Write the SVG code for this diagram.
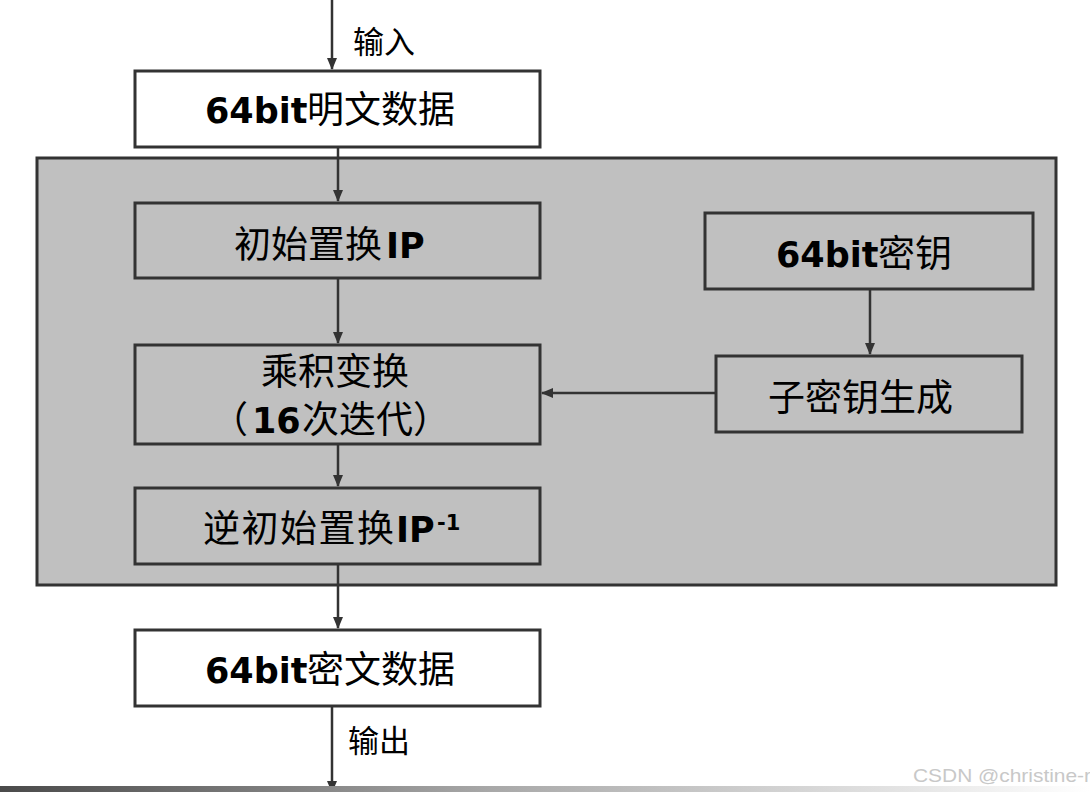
<svg xmlns="http://www.w3.org/2000/svg" width="1090" height="792" viewBox="0 0 1090 792">
<defs>
<marker id="ah" markerWidth="12" markerHeight="12" viewBox="0 0 12 12" refX="11" refY="6" orient="auto" markerUnits="userSpaceOnUse">
<path d="M0,1 L12,6 L0,11 Z" fill="#333"/>
</marker>
<linearGradient id="bar" x1="0" y1="0" x2="1" y2="0">
<stop offset="0" stop-color="#4a4a4a"/>
<stop offset="0.45" stop-color="#a8a8a8"/>
<stop offset="1" stop-color="#ffffff"/>
</linearGradient>
<style>
.box{stroke:#333;stroke-width:3}
.w{fill:#fff}
.g{fill:#c0c0c0}
.cn{font-family:"Noto Sans CJK SC","Noto Sans",sans-serif;font-size:37px;fill:#000}
.lb{font-family:"DejaVu Sans","Noto Sans",sans-serif;font-weight:bold;font-size:35px;fill:#000}
.lbl{font-family:"Noto Sans CJK SC",sans-serif;font-size:31px;fill:#000}
.wire{stroke:#333;stroke-width:2.5;fill:none}
</style>
</defs>
<rect width="1090" height="792" fill="#fff"/>
<rect id="container" x="37" y="158" width="1019" height="427" fill="#c0c0c0" stroke="#333" stroke-width="3"/>

<g id="connectors">
<line class="wire" x1="332" y1="0" x2="332" y2="69" marker-end="url(#ah)"/>
<line class="wire" x1="338" y1="148" x2="338" y2="201" marker-end="url(#ah)"/>
<line class="wire" x1="338" y1="279" x2="338" y2="343" marker-end="url(#ah)"/>
<line class="wire" x1="338" y1="445" x2="338" y2="486" marker-end="url(#ah)"/>
<line class="wire" x1="338" y1="565" x2="338" y2="628" marker-end="url(#ah)"/>
<line class="wire" x1="332" y1="707" x2="332" y2="792" marker-end="url(#ah)"/>
<line class="wire" x1="870" y1="290" x2="870" y2="354" marker-end="url(#ah)"/>
<line class="wire" x1="716" y1="393" x2="542" y2="393" marker-end="url(#ah)"/>
<text class="lbl" x="353" y="53">输入</text>
<text class="lbl" x="348" y="752">输出</text>
</g>

<g id="plain">
<rect class="box w" x="135" y="71" width="405" height="76"/>
<text y="123"><tspan class="lb" x="205">64bit</tspan><tspan class="cn" x="307">明文数据</tspan></text>
</g>

<g id="ip">
<rect class="box g" x="135" y="203" width="405" height="75"/>
<text y="258"><tspan class="cn" x="234">初始置换</tspan><tspan class="lb" x="386">IP</tspan></text>
</g>

<g id="product">
<rect class="box g" x="135" y="345" width="405" height="99"/>
<text class="cn" x="261" y="385">乘积变换</text>
<text y="433"><tspan class="cn" x="211">（</tspan><tspan class="lb" x="252">16</tspan><tspan class="cn" x="302">次迭代）</tspan></text>
</g>

<g id="ipinv">
<rect class="box g" x="135" y="488" width="405" height="76"/>
<text y="542"><tspan class="cn" x="203" style="letter-spacing:1.5px">逆初始置换</tspan><tspan class="lb" x="396">IP</tspan><tspan class="lb" style="font-size:21px" x="437" y="530">-1</tspan></text>
</g>

<g id="cipher">
<rect class="box w" x="135" y="630" width="405" height="76"/>
<text y="683"><tspan class="lb" x="205">64bit</tspan><tspan class="cn" x="307">密文数据</tspan></text>
</g>

<g id="key">
<rect class="box g" x="705" y="213" width="328" height="76"/>
<text y="267"><tspan class="lb" x="776">64bit</tspan><tspan class="cn" x="878">密钥</tspan></text>
</g>

<g id="subkey">
<rect class="box g" x="716" y="356" width="306" height="76"/>
<text class="cn" x="768" y="411">子密钥生成</text>
</g>

<rect x="0" y="786" width="1090" height="6" fill="url(#bar)"/>
<text x="913" y="782" font-family="Liberation Sans, sans-serif" font-size="19" fill="#c8c8c8" textLength="185" lengthAdjust="spacingAndGlyphs">CSDN @christine-rr</text>
</svg>
